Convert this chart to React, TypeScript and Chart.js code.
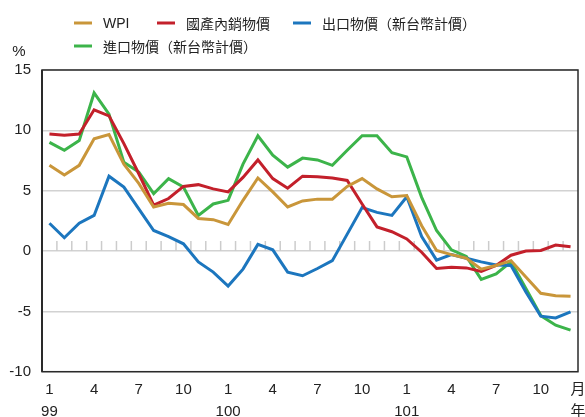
import React, { useEffect, useRef } from 'react';
import { Chart, registerables } from 'chart.js';

Chart.register(...registerables);

const categories = [
  '99/1', '99/2', '99/3', '99/4', '99/5', '99/6', '99/7', '99/8', '99/9', '99/10', '99/11', '99/12',
  '100/1', '100/2', '100/3', '100/4', '100/5', '100/6', '100/7', '100/8', '100/9', '100/10', '100/11', '100/12',
  '101/1', '101/2', '101/3', '101/4', '101/5', '101/6', '101/7', '101/8', '101/9', '101/10', '101/11', '101/12',
];

const monthLabels = [
  '1', '', '', '4', '', '', '7', '', '', '10', '', '',
  '1', '', '', '4', '', '', '7', '', '', '10', '', '',
  '1', '', '', '4', '', '', '7', '', '', '10', '', '',
];

const yearLabels = [
  '99', '', '', '', '', '', '', '', '', '', '', '',
  '100', '', '', '', '', '', '', '', '', '', '', '',
  '101', '', '', '', '', '', '', '', '', '', '', '',
];

const yTicks = [-10, -5, 0, 5, 10, 15];

const wpi = [
  7.1, 6.3, 7.1, 9.3, 9.65, 7.2, 5.6, 3.65, 3.95, 3.85, 2.7, 2.6,
  2.2, 4.2, 6.05, 4.9, 3.65, 4.15, 4.3, 4.3, 5.35, 6.0, 5.15, 4.5,
  4.6, 2.1, 0.05, -0.3, -0.6, -1.5, -1.2, -0.8, -2.15, -3.5, -3.7, -3.75,
];

const domestic = [
  9.7, 9.6, 9.7, 11.7, 11.2, 8.9, 6.4, 3.8, 4.35, 5.35, 5.5, 5.15,
  4.9, 6.1, 7.55, 6.0, 5.2, 6.2, 6.15, 6.05, 5.85, 3.9, 2.0, 1.6,
  1.0, -0.1, -1.45, -1.35, -1.4, -1.7, -1.2, -0.35, 0.0, 0.05, 0.5, 0.35,
];

const exportPrices = [
  2.3, 1.1, 2.3, 2.95, 6.2, 5.3, 3.5, 1.7, 1.2, 0.6, -0.9, -1.75,
  -2.9, -1.5, 0.55, 0.1, -1.75, -2.05, -1.45, -0.8, 1.4, 3.6, 3.2, 2.95,
  4.5, 1.2, -0.75, -0.3, -0.6, -0.9, -1.15, -1.2, -3.4, -5.4, -5.55, -5.05,
];

const importPrices = [
  9.0, 8.35, 9.15, 13.1, 11.35, 7.35, 6.55, 4.75, 6.0, 5.3, 2.95, 3.9,
  4.2, 7.2, 9.55, 7.95, 6.95, 7.7, 7.55, 7.1, 8.35, 9.55, 9.55, 8.15,
  7.8, 4.45, 1.7, 0.1, -0.45, -2.35, -1.9, -0.9, -3.1, -5.35, -6.15, -6.55,
];

const seriesNames = ['WPI', '國產內銷物價', '出口物價（新台幣計價）', '進口物價（新台幣計價）'];
const seriesColors = ['#C9963A', '#C3202B', '#1C76BE', '#3CB44A'];

const FONT = "'Liberation Sans', Arial, 'Noto Sans CJK TC', sans-serif";
const CJK_FONT = "'Noto Sans CJK TC', 'Liberation Sans', sans-serif";

const extrasPlugin = {
  id: 'extras',
  beforeDatasetsDraw(chart: any) {
    const { ctx, scales } = chart;
    const xs = scales.x;
    const ys = scales.y;
    const y0 = ys.getPixelForValue(0);
    ctx.save();
    ctx.strokeStyle = '#cccccc';
    ctx.lineWidth = 1.5;
    for (let i = 0; i < categories.length - 1; i++) {
      const px = xs.getPixelForValue(i + 0.5);
      ctx.beginPath();
      ctx.moveTo(px, y0);
      ctx.lineTo(px, y0 - 10);
      ctx.stroke();
    }
    ctx.restore();
  },
  afterDraw(chart: any) {
    const { ctx, chartArea } = chart;
    ctx.save();
    ctx.strokeStyle = '#2a2a2a';
    ctx.lineWidth = 1.5;
    ctx.strokeRect(chartArea.left, chartArea.top, chartArea.right - chartArea.left, chartArea.bottom - chartArea.top);
    ctx.lineWidth = 2;
    ctx.beginPath();
    ctx.moveTo(chartArea.left, chartArea.top);
    ctx.lineTo(chartArea.left, chartArea.bottom);
    ctx.stroke();

    ctx.fillStyle = '#222222';
    ctx.font = `15px ${FONT}`;
    ctx.textAlign = 'center';
    ctx.textBaseline = 'middle';
    ctx.fillText('%', 19, 52);
    ctx.fillText('月', chartArea.right, 390);
    ctx.fillText('年', chartArea.right, 412);

    const items = [
      { x: 74, y: 23 },
      { x: 157, y: 23 },
      { x: 293, y: 23 },
      { x: 74, y: 46 },
    ];
    ctx.textAlign = 'left';
    items.forEach((it, i) => {
      ctx.strokeStyle = seriesColors[i];
      ctx.lineWidth = 3;
      ctx.beginPath();
      ctx.moveTo(it.x, it.y);
      ctx.lineTo(it.x + 18, it.y);
      ctx.stroke();
      ctx.fillStyle = '#222222';
      ctx.font = i === 0 ? `14px ${FONT}` : `14px ${CJK_FONT}`;
      ctx.fillText(seriesNames[i], it.x + 29, it.y + 1);
    });
    ctx.restore();
  },
};

export default function App() {
  const canvasRef = useRef<HTMLCanvasElement | null>(null);

  useEffect(() => {
    if (!canvasRef.current) return;
    const seriesData = [wpi, domestic, exportPrices, importPrices];
    const chart = new Chart(canvasRef.current, {
      type: 'line',
      data: {
        labels: categories,
        datasets: seriesData.map((d, i) => ({
          label: seriesNames[i],
          data: d,
          borderColor: seriesColors[i],
          backgroundColor: seriesColors[i],
          borderWidth: 3,
          pointRadius: 0,
          tension: 0,
          fill: false,
        })),
      },
      options: {
        animation: false,
        responsive: true,
        maintainAspectRatio: false,
        layout: { padding: { top: 70, right: 7, left: 0, bottom: 0 } },
        plugins: {
          legend: { display: false },
          tooltip: { enabled: false },
        },
        scales: {
          x: {
            type: 'category',
            offset: true,
            grid: { display: false, drawTicks: false },
            border: { display: false },
            ticks: {
              autoSkip: false,
              maxRotation: 0,
              minRotation: 0,
              padding: 7.5,
              color: '#222222',
              font: { family: FONT, size: 15, lineHeight: 1.45 },
              callback: (_v: any, index: number) => [monthLabels[index], yearLabels[index]],
            },
            afterFit: (scale: any) => {
              scale.height = 45.3;
            },
          },
          y: {
            min: -10,
            max: 15,
            afterBuildTicks: (scale: any) => {
              scale.ticks = yTicks.map((v) => ({ value: v }));
            },
            grid: { color: '#d2d2d2', lineWidth: 1.5, drawTicks: false },
            border: { display: false },
            ticks: {
              padding: 11,
              color: '#222222',
              font: { family: FONT, size: 15 },
            },
            afterFit: (scale: any) => {
              scale.width = 42;
            },
          },
        },
      },
      plugins: [extrasPlugin],
    });
    return () => chart.destroy();
  }, []);

  return (
    <div style={{ position: 'absolute', left: 0, top: 0, width: 585, height: 417 }}>
      <canvas ref={canvasRef} />
    </div>
  );
}
